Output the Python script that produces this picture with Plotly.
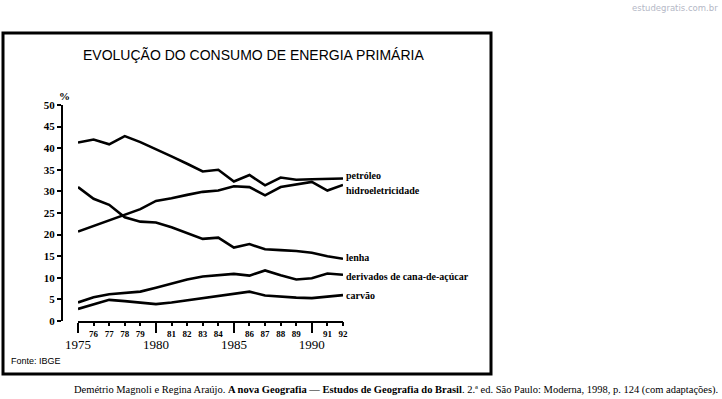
import plotly.graph_objects as go

years = list(range(1975, 1993))
petroleo = [41.3, 42.0, 40.9, 42.8, 41.4, 39.8, 38.1, 36.4, 34.6, 35.0, 32.3, 33.8, 31.4, 33.2, 32.7, 32.8, 32.9, 33.0]
hidro = [20.7, 22.0, 23.3, 24.6, 25.9, 27.8, 28.4, 29.2, 29.9, 30.2, 31.2, 31.0, 29.1, 31.0, 31.6, 32.2, 30.2, 31.5]
lenha = [31.0, 28.3, 26.9, 24.0, 23.0, 22.8, 21.7, 20.3, 19.0, 19.3, 17.0, 17.8, 16.6, 16.4, 16.2, 15.8, 15.0, 14.4]
cana = [4.3, 5.5, 6.2, 6.5, 6.8, 7.7, 8.6, 9.6, 10.3, 10.6, 10.9, 10.5, 11.7, 10.6, 9.6, 9.9, 11.0, 10.7]
carvao = [2.8, 3.9, 4.9, 4.6, 4.3, 3.9, 4.3, 4.8, 5.2, 5.7, 6.2, 6.8, 5.9, 5.6, 5.4, 5.3, 5.6, 6.0]

series_names = ["petróleo", "hidroeletricidade", "lenha", "derivados de cana-de-açúcar", "carvão"]
series_values = [petroleo, hidro, lenha, cana, carvao]
label_offsets = [0.6, -1.4, 0.2, -0.3, -0.2]

major_years = [1975, 1980, 1985, 1990]
minor_years = [y for y in years if y not in major_years]
minor_labels = [str(y)[2:] for y in minor_years]
y_ticks = list(range(0, 55, 5))

W, H = 722, 399
serif = "Liberation Serif"

fig = go.Figure()
for name, vals in zip(series_names, series_values):
    fig.add_trace(go.Scatter(x=years, y=vals, mode="lines", name=name,
                             line=dict(color="black", width=2.6), showlegend=False,
                             hoverinfo="skip"))

for name, vals, off in zip(series_names, series_values, label_offsets):
    fig.add_annotation(x=years[-1], y=vals[-1] + off, xref="x", yref="y", text="<b>" + name + "</b>",
                       showarrow=False, xanchor="left", yanchor="middle", xshift=1,
                       font=dict(family=serif, size=10, color="black"))

x_dom = [78 / W, 343 / W]
y_dom = [(H - 321) / H, (H - 105) / H]

fig.update_layout(
    autosize=True, margin=dict(l=0, r=0, t=0, b=0, autoexpand=False),
    paper_bgcolor="white", plot_bgcolor="rgba(0,0,0,0)",
    xaxis=dict(domain=x_dom, range=[years[0], years[-1]], anchor="y", automargin=False,
               showgrid=False, zeroline=False, showline=True, linecolor="black", linewidth=2,
               tickmode="array", tickvals=major_years, ticktext=[str(y) for y in major_years],
               ticks="outside", ticklen=10, tickwidth=2, tickcolor="black",
               tickfont=dict(family=serif, size=13, color="black")),
    xaxis2=dict(overlaying="x", anchor="y", range=[years[0], years[-1]], domain=x_dom, automargin=False,
                showgrid=False, zeroline=False, showline=False,
                tickmode="array", tickvals=minor_years, ticktext=["<b>" + t + "</b>" for t in minor_labels],
                ticks="outside", ticklen=4, tickwidth=2, tickcolor="black",
                tickfont=dict(family=serif, size=9, color="black")),
    yaxis=dict(domain=y_dom, range=[0, 50], anchor="free", position=62 / W, automargin=False,
               showgrid=False, zeroline=False, showline=True, linecolor="black", linewidth=2,
               tickmode="array", tickvals=y_ticks, ticktext=["<b>%d</b>" % v for v in y_ticks],
               ticks="outside", ticklen=4, tickwidth=2, tickcolor="black",
               tickfont=dict(family=serif, size=11, color="black")),
)
fig.add_trace(go.Scatter(x=[years[0]], y=[0], xaxis="x2", mode="markers",
                         marker=dict(opacity=0), showlegend=False, hoverinfo="skip"))

fig.add_shape(type="rect", xref="paper", yref="paper",
              x0=3 / W, x1=491 / W, y0=(H - 374) / H, y1=(H - 33) / H,
              line=dict(color="black", width=3), fillcolor="rgba(0,0,0,0)")

fig.add_annotation(x=253 / W, y=(H - 55) / H, xref="paper", yref="paper",
                   text="EVOLUÇÃO DO CONSUMO DE ENERGIA PRIMÁRIA", showarrow=False,
                   xanchor="center", yanchor="middle",
                   font=dict(family="Liberation Sans", size=14, color="black"))
fig.add_annotation(x=64 / W, y=(H - 96) / H, xref="paper", yref="paper", text="<b>%</b>",
                   showarrow=False, xanchor="center", yanchor="middle",
                   font=dict(family=serif, size=11, color="black"))
fig.add_annotation(x=9 / W, y=(H - 361) / H, xref="paper", yref="paper", text="Fonte: IBGE",
                   showarrow=False, xanchor="left", yanchor="middle",
                   font=dict(family="Liberation Sans", size=9, color="black"))
fig.add_annotation(x=720 / W, y=(H - 390) / H, xref="paper", yref="paper",
                   text="Demétrio Magnoli e Regina Araújo. <b>A nova Geografia</b> — <b>Estudos de Geografia do Brasil</b>. 2.ª ed. São Paulo: Moderna, 1998, p. 124 (com adaptações).",
                   showarrow=False, xanchor="right", yanchor="middle",
                   font=dict(family=serif, size=10.5, color="black"))
fig.add_annotation(x=720 / W, y=(H - 8) / H, xref="paper", yref="paper",
                   text="estudegratis.com.br", showarrow=False, xanchor="right", yanchor="middle",
                   font=dict(family="DejaVu Sans", size=8.5, color="#b4b8c6"))

fig.write_html("out.html", config={"displayModeBar": False, "responsive": True},
               default_width="100vw", default_height="100vh",
               post_script="document.body.style.margin='0';document.body.style.overflow='hidden';"
                           "Plotly.Plots.resize(document.getElementById('{plot_id}'));")
